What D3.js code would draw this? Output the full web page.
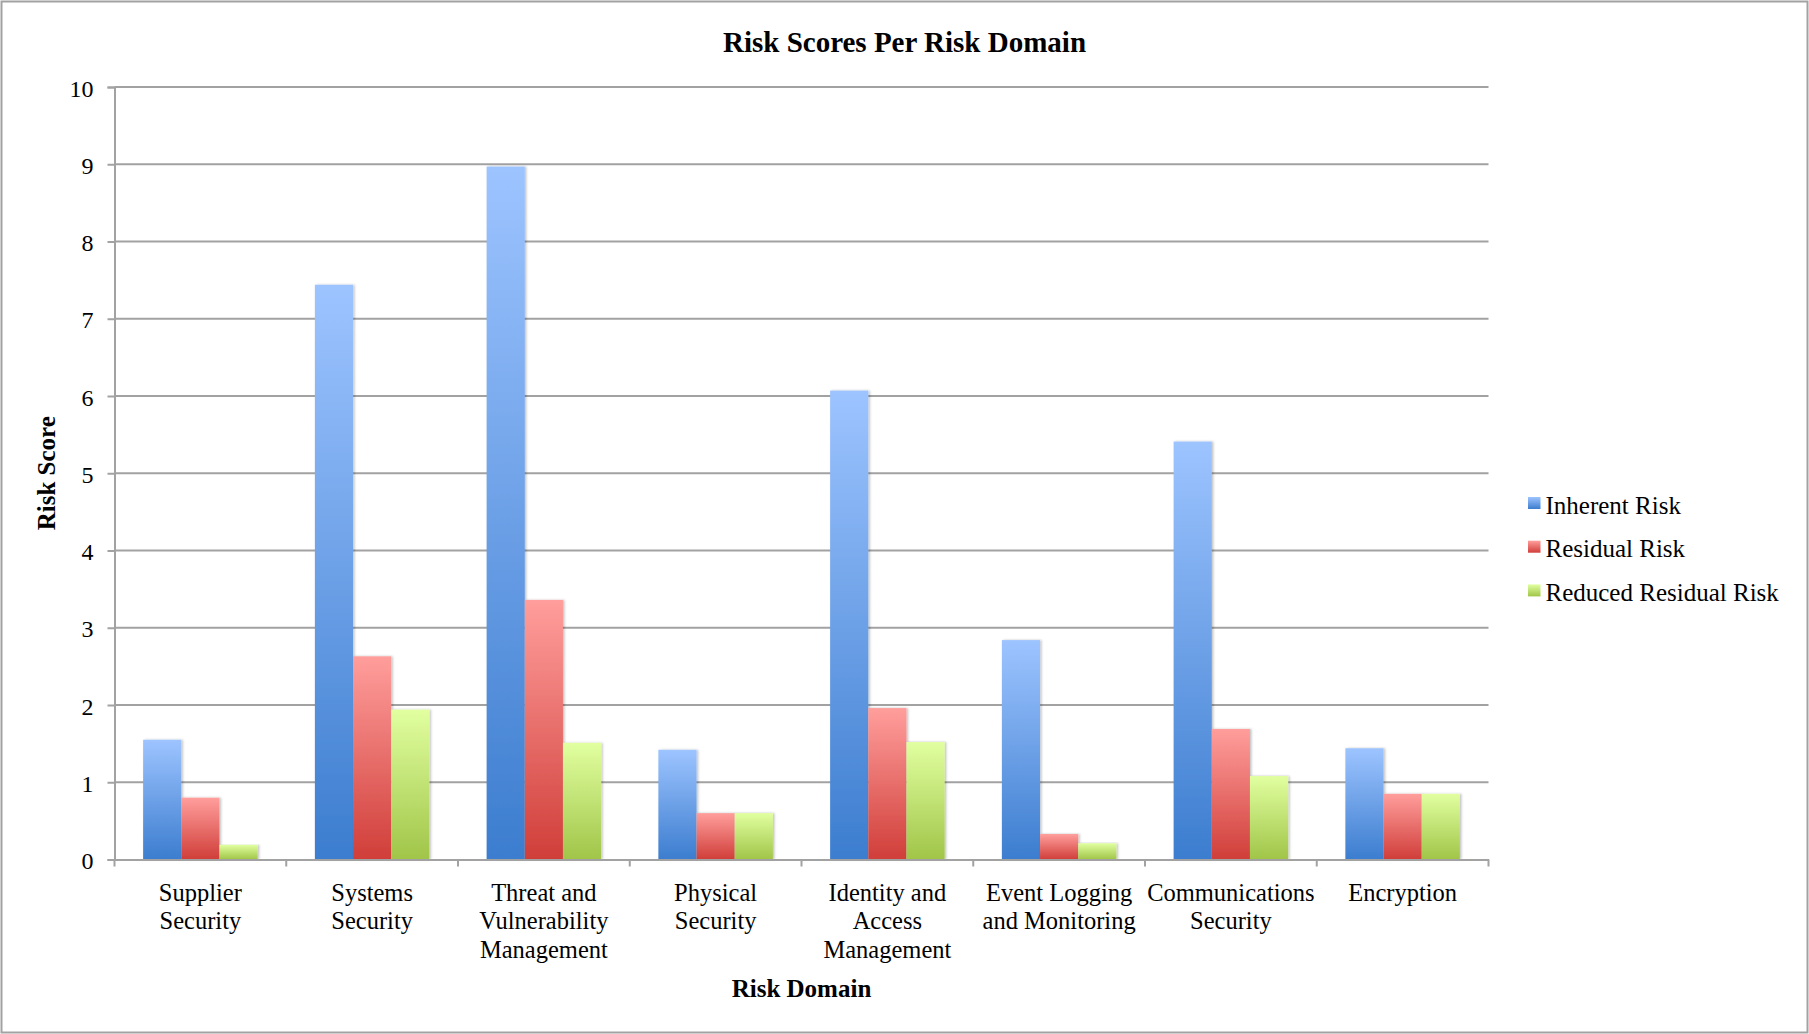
<!DOCTYPE html>
<html>
<head>
<meta charset="utf-8">
<script src="https://cdn.jsdelivr.net/npm/d3@7"></script>
<style>
  body { margin: 0; background: #fff; }
  text { font-family: "Liberation Serif", "Times New Roman", serif; fill: #000; }
</style>
</head>
<body>
<div id="chart"></div>
<script>
// data
const categories = [
  'Supplier Security', 'Systems Security', 'Threat and Vulnerability Management',
  'Physical Security', 'Identity and Access Management', 'Event Logging and Monitoring',
  'Communications Security', 'Encryption',
];
const categoryLines = [
  ['Supplier', 'Security'],
  ['Systems', 'Security'],
  ['Threat and', 'Vulnerability', 'Management'],
  ['Physical', 'Security'],
  ['Identity and', 'Access', 'Management'],
  ['Event Logging', 'and Monitoring'],
  ['Communications', 'Security'],
  ['Encryption'],
];
const seriesNames = ['Inherent Risk', 'Residual Risk', 'Reduced Residual Risk'];
const inherentRisk = [1.55, 7.44, 8.97, 1.42, 6.07, 2.84, 5.41, 1.44];
const residualRisk = [0.80, 2.63, 3.36, 0.60, 1.96, 0.33, 1.69, 0.85];
const reducedResidualRisk = [0.19, 1.94, 1.51, 0.60, 1.52, 0.21, 1.08, 0.85];
const yTicks = [0, 1, 2, 3, 4, 5, 6, 7, 8, 9, 10];

const seriesValues = [inherentRisk, residualRisk, reducedResidualRisk];
const gradients = [
  ['#9dc4ff', '#3c7dcf'],
  ['#ff9e9c', '#d03e39'],
  ['#e1ffa0', '#a0c548'],
];

const W = 1809;
const H = 1034;
const margin = { top: 87, right: 320.5, bottom: 174.5, left: 114.5 };
const width = W - margin.left - margin.right;
const height = H - margin.top - margin.bottom;
const grey = '#a2a2a2';

const svg = d3.select('#chart')
  .append('svg')
  .attr('width', W)
  .attr('height', H);

// gradients + shadow
const defs = svg.append('defs');
gradients.forEach((g, i) => {
  const lg = defs.append('linearGradient')
    .attr('id', `grad${i}`)
    .attr('x1', 0).attr('y1', 0)
    .attr('x2', 0).attr('y2', 1);
  lg.append('stop').attr('offset', '0%').attr('stop-color', g[0]);
  lg.append('stop').attr('offset', '100%').attr('stop-color', g[1]);
});
defs.append('filter')
  .attr('id', 'shadow')
  .attr('x', '-20%').attr('y', '-5%')
  .attr('width', '140%').attr('height', '110%')
  .append('feDropShadow')
  .attr('dx', 1.5).attr('dy', 0)
  .attr('stdDeviation', 1)
  .attr('flood-color', '#000')
  .attr('flood-opacity', 0.25);

// outer frame
svg.append('rect')
  .attr('x', 1.5).attr('y', 1.5)
  .attr('width', W - 3).attr('height', H - 3)
  .attr('fill', '#fff')
  .attr('stroke', grey)
  .attr('stroke-width', 2);

const g = svg.append('g')
  .attr('transform', `translate(${margin.left},${margin.top})`);

// scales
const x0 = d3.scaleBand()
  .domain(categories)
  .range([0, width])
  .padding(0);

const x1 = d3.scaleBand()
  .domain(seriesNames)
  .range([0, x0.bandwidth()])
  .paddingInner(0)
  .paddingOuter(0.75);

const y = d3.scaleLinear()
  .domain([0, 10])
  .range([height, 0]);

// gridlines
g.append('g')
  .selectAll('line')
  .data(yTicks.filter(d => d > 0))
  .enter()
  .append('line')
  .attr('x1', 0)
  .attr('x2', width)
  .attr('y1', d => y(d))
  .attr('y2', d => y(d))
  .attr('stroke', grey)
  .attr('stroke-width', 2);

// y axis
const yAxis = g.append('g')
  .call(d3.axisLeft(y).tickValues(yTicks).tickSize(7).tickPadding(14).tickFormat(d3.format('d')));
yAxis.select('.domain').attr('stroke', grey).attr('stroke-width', 2);
yAxis.selectAll('.tick line').attr('stroke', grey).attr('stroke-width', 2);
yAxis.selectAll('.tick text')
  .attr('font-size', 24)
  .attr('font-family', '"Liberation Serif", serif')
  .attr('fill', '#000')
  .attr('dy', '0.38em');

// bars
const groups = g.append('g')
  .selectAll('g')
  .data(categories)
  .enter()
  .append('g')
  .attr('transform', d => `translate(${x0(d)},0)`);

groups.selectAll('rect')
  .data((d, ci) => seriesNames.map((s, si) => ({ s, si, v: seriesValues[si][ci] })))
  .enter()
  .append('rect')
  .attr('x', d => x1(d.s))
  .attr('y', d => y(d.v))
  .attr('width', x1.bandwidth())
  .attr('height', d => y(0) - y(d.v))
  .attr('fill', d => `url(#grad${d.si})`)
  .attr('filter', 'url(#shadow)');

// x axis
const xAxis = g.append('g')
  .attr('transform', `translate(0,${height})`)
  .call(d3.axisBottom(x0).tickSize(0).tickFormat(''));
xAxis.select('.domain').attr('stroke', grey).attr('stroke-width', 2);

// category boundary ticks
g.append('g')
  .selectAll('line')
  .data(d3.range(categories.length + 1))
  .enter()
  .append('line')
  .attr('x1', i => i * x0.step())
  .attr('x2', i => i * x0.step())
  .attr('y1', height)
  .attr('y2', height + 7)
  .attr('stroke', grey)
  .attr('stroke-width', 2);

// category labels
const labels = g.append('g')
  .selectAll('text')
  .data(categories)
  .enter()
  .append('text')
  .attr('text-anchor', 'middle')
  .attr('font-size', 24.5)
  .attr('x', d => x0(d) + x0.bandwidth() / 2)
  .attr('y', height + 41);
labels.selectAll('tspan')
  .data((d, i) => categoryLines[i])
  .enter()
  .append('tspan')
  .attr('x', function () { return d3.select(this.parentNode).attr('x'); })
  .attr('dy', (d, i) => (i === 0 ? 0 : 28.8))
  .text(d => d);

// titles
svg.append('text')
  .attr('x', W / 2)
  .attr('y', 51.5)
  .attr('text-anchor', 'middle')
  .attr('font-size', 29)
  .attr('font-weight', 'bold')
  .text('Risk Scores Per Risk Domain');

svg.append('text')
  .attr('x', margin.left + width / 2)
  .attr('y', 997)
  .attr('text-anchor', 'middle')
  .attr('font-size', 25)
  .attr('font-weight', 'bold')
  .text('Risk Domain');

svg.append('text')
  .attr('transform', `translate(55,${margin.top + height / 2}) rotate(-90)`)
  .attr('text-anchor', 'middle')
  .attr('font-size', 25)
  .attr('font-weight', 'bold')
  .text('Risk Score');

// legend
const legend = svg.append('g')
  .attr('transform', 'translate(1528,513.5)');
const items = legend.selectAll('g')
  .data(seriesNames)
  .enter()
  .append('g')
  .attr('transform', (d, i) => `translate(0,${i * 43.7})`);
items.append('rect')
  .attr('x', 0)
  .attr('y', -16.5)
  .attr('width', 12.5)
  .attr('height', 12)
  .attr('fill', (d, i) => `url(#grad${i})`);
items.append('text')
  .attr('x', 17.5)
  .attr('y', 0)
  .attr('font-size', 25)
  .text(d => d);
</script>
</body>
</html>
